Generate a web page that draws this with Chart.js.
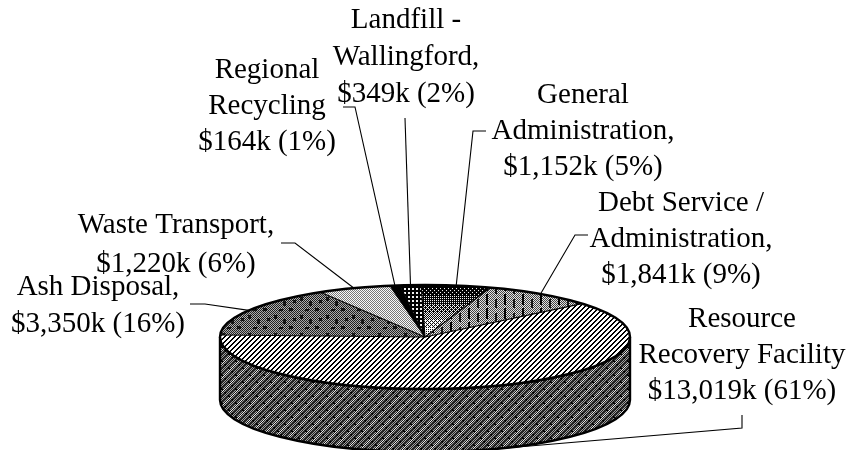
<!DOCTYPE html>
<html><head><meta charset="utf-8">
<style>html,body{margin:0;padding:0;background:#fff}#w{width:851px;height:450px;position:relative}</style>
<script src="https://cdn.jsdelivr.net/npm/chart.js@4"></script></head>
<body><div id="w"><canvas id="c" width="851" height="450"></canvas></div>
<script>
const categories = ["Resource Recovery Facility","Ash Disposal","Waste Transport","Regional Recycling","Landfill - Wallingford","General Administration","Debt Service / Administration"];
const values = [13019,3350,1220,164,349,1152,1841];
const percents = [61,16,6,1,2,5,9];
const labelLines = [
 ["Resource","Recovery Facility","$13,019k (61%)"],
 ["Ash Disposal,","$3,350k (16%)"],
 ["Waste Transport,","$1,220k (6%)"],
 ["Regional","Recycling","$164k (1%)"],
 ["Landfill -","Wallingford,","$349k (2%)"],
 ["General","Administration,","$1,152k (5%)"],
 ["Debt Service /","Administration,","$1,841k (9%)"]
];
// layout of the drawn labels and leader elbows (presentation only)
const labelCx = [742,98,176,267,406,583,681];
const labelBase = [327,295,233,78,28,103,211];
const labelStep = [36,37,39,36,37,36,36];
const leaderElbow = [
 [[742,415],[742,428]],[[190,304],[205,304]],[[281,243],[295,243]],
 [[343,107],[355,107]],[[405,118]],[[486,131],[473,131]],[[588,235],[575,235]]
];
const ROT=50, TX=425, TY=337, RX=205, RY=52, DEPTH=63;

function tile(w,h,f){
  const c=document.createElement('canvas');c.width=w;c.height=h;
  const g=c.getContext('2d'),im=g.createImageData(w,h);
  for(let y=0;y<h;y++)for(let x=0;x<w;x++){const v=f(x,y),i=(y*w+x)*4;
    im.data[i]=im.data[i+1]=im.data[i+2]=v;im.data[i+3]=255;}
  g.putImageData(im,0,0);
  return g.createPattern(c,'repeat');
}
const chk=(x,y)=>(x+y)%2===0;
const pats={
 stripes:tile(5,5,(x,y)=>((x+y)%5<2)?0:255),
 wall:tile(14,14,(x,y)=>{const u=(x+y)%7,d=((x-y)%14+14)%14;
   if(d<2&&u<3)return 0; if(u<2)return 40; return chk(x,y)?30:(u===4?235:160);}),
 ash:tile(26,18,(x,y)=>{
   const blob=((x>=3&&x<7&&y>=2&&y<5)||(x>=14&&x<17&&y>=9&&y<13)||(x>=19&&x<23&&y>=3&&y<5)||(x>=7&&x<10&&y>=12&&y<15)||(x>=23&&y>=13));
   if(blob)return chk(x,y)?0:40;
   return chk(x,y)?20:185;}),
 light:tile(2,2,(x,y)=>chk(x,y)?120:250),
 black:tile(1,1,()=>0),
 dots:tile(4,4,(x,y)=>(x%4<2&&y%4<2)?240:0),
 grad:tile(8,70,(x,y)=>{
   const bayer=[[0,8,2,10],[12,4,14,6],[3,11,1,9],[15,7,13,5]];
   const lv=Math.min(1,Math.max(0,(y-5)/52))*0.8+0.03;
   return lv>(bayer[y%4][x%4]+.5)/16?255:0;}),
 vert:tile(18,14,(x,y)=>{
   if(x%18<2&&y%14<11)return 0; if(x%18>=9&&x%18<11&&y%14>4)return 20;
   return chk(x,y)?60:235;})
};
const fills=[pats.stripes,pats.ash,pats.light,pats.black,pats.dots,pats.grad,pats.vert];

function cp(a){return [TX+RX*Math.cos(a),TY+RY*Math.sin(a)];}
const pie3d={id:'pie3d',
 beforeDatasetsDraw(ch){
  const ctx=ch.ctx,arcs=ch.getDatasetMeta(0).data,a0=arcs[0],p=a0.getProps(['x','y','outerRadius']);
  const sx=RX/p.outerRadius,sy=RY/p.outerRadius;
  // leaders go behind the pie
  ctx.save();ctx.strokeStyle='#000';ctx.lineWidth=1.1;
  arcs.forEach((arc,i)=>{
    const q=arc.getProps(['startAngle','endAngle']),m=(q.startAngle+q.endAngle)/2;
    let e=cp(m); if(Math.sin(m)>0)e=[e[0],e[1]+DEPTH];
    ctx.beginPath();leaderElbow[i].forEach((pt,k)=>k?ctx.lineTo(pt[0],pt[1]):ctx.moveTo(pt[0],pt[1]));
    ctx.lineTo(e[0],e[1]);ctx.stroke();
  });
  ctx.restore();
  // side wall, from the same arcs
  ctx.save();ctx.strokeStyle='#000';ctx.lineWidth=2.4;
  arcs.forEach((arc,i)=>{
    const q=arc.getProps(['startAngle','endAngle']);
    const s=Math.max(q.startAngle,0),e=Math.min(q.endAngle,Math.PI);
    if(e<=s)return;
    ctx.beginPath();ctx.ellipse(TX,TY,RX,RY,0,s,e);ctx.ellipse(TX,TY+DEPTH,RX,RY,0,e,s,true);ctx.closePath();
    ctx.fillStyle=pats.wall;ctx.fill();ctx.stroke();
  });
  ctx.restore();
  // flatten the chart's own pie onto the top face
  const inv=new DOMMatrix().translate(p.x,p.y).scale(1/sx,1/sy).translate(-TX,-TY);
  fills.forEach(f=>f.setTransform(inv));
  ctx.save();ctx.translate(TX,TY);ctx.scale(sx,sy);ctx.translate(-p.x,-p.y);
 },
 afterDatasetsDraw(ch){
  const ctx=ch.ctx,arcs=ch.getDatasetMeta(0).data;
  ctx.restore();
  ctx.save();ctx.strokeStyle='#000';ctx.lineWidth=1.2;
  arcs.forEach(arc=>{const q=arc.getProps(['startAngle']),e=cp(q.startAngle);
    ctx.beginPath();ctx.moveTo(TX,TY);ctx.lineTo(e[0],e[1]);ctx.stroke();});
  ctx.lineWidth=2.4;ctx.beginPath();ctx.ellipse(TX,TY,RX,RY,0,0,Math.PI*2);ctx.stroke();
  ctx.fillStyle='#000';ctx.font='29px "Liberation Serif"';ctx.textAlign='center';ctx.textBaseline='alphabetic';
  labelLines.forEach((ls,i)=>ls.forEach((t,k)=>ctx.fillText(t,labelCx[i],labelBase[i]+k*labelStep[i])));
  ctx.restore();
 }
};
new Chart(document.getElementById('c'),{
 type:'pie',
 data:{labels:categories,datasets:[{data:values,backgroundColor:fills,borderWidth:0,clip:false}]},
 options:{responsive:false,animation:false,rotation:ROT,
  plugins:{legend:{display:false},tooltip:{enabled:false}},events:[]},
 plugins:[pie3d]
});
</script></body></html>
